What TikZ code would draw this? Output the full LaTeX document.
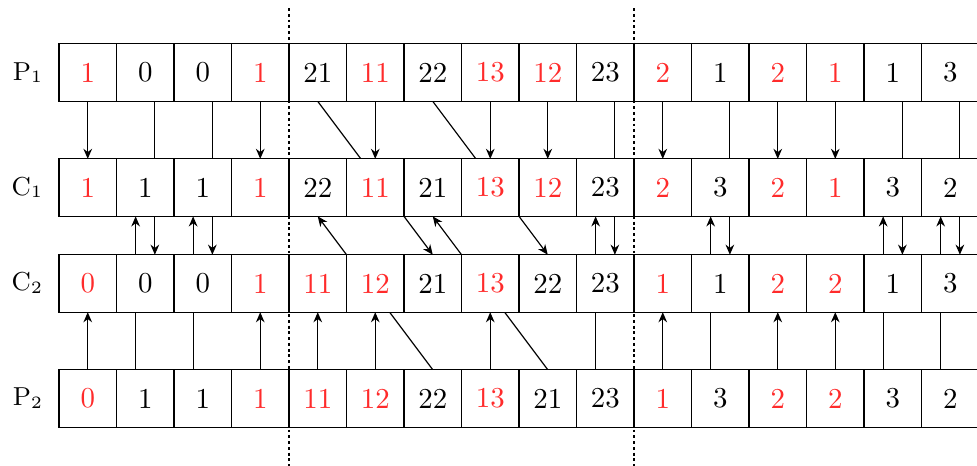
\documentclass[tikz,border=0pt]{standalone}
\usepackage{tikz}
\usetikzlibrary{arrows.meta,positioning,backgrounds}
\definecolor{Kept}{HTML}{FF2B2B}

\begin{document}
\begin{tikzpicture}[x=0.7cm,y=0.7cm,
    cell/.style={rectangle,draw,fill=white,minimum size=0.7cm,inner sep=0pt,outer sep=0pt},
    rowname/.style={font=\small},
    link/.style={-{Stealth[length=3.5pt,width=3pt]}},
    cut/.style={dash pattern=on 1pt off 1pt}
]
\useasboundingbox (-1.026,-0.673) rectangle (15.965,7.43);
% the four strings
\foreach \c/\v [count=\i from 0] in {Kept/1,black/0,black/0,Kept/1,black/21,Kept/11,black/22,Kept/13,Kept/12,black/23,Kept/2,black/1,Kept/2,Kept/1,black/1,black/3}
  \node[cell,text=\c] (p1-\i) at (\i+0.5,6.1667) {\v};
\foreach \c/\v [count=\i from 0] in {Kept/1,black/1,black/1,Kept/1,black/22,Kept/11,black/21,Kept/13,Kept/12,black/23,Kept/2,black/3,Kept/2,Kept/1,black/3,black/2}
  \node[cell,text=\c] (c1-\i) at (\i+0.5,4.1667) {\v};
\foreach \c/\v [count=\i from 0] in {Kept/0,black/0,black/0,Kept/1,Kept/11,Kept/12,black/21,Kept/13,black/22,black/23,Kept/1,black/1,Kept/2,Kept/2,black/1,black/3}
  \node[cell,text=\c] (c2-\i) at (\i+0.5,2.5) {\v};
\foreach \c/\v [count=\i from 0] in {Kept/0,black/1,black/1,Kept/1,Kept/11,Kept/12,black/22,Kept/13,black/21,black/23,Kept/1,black/3,Kept/2,Kept/2,black/3,black/2}
  \node[cell,text=\c] (p2-\i) at (\i+0.5,0.5) {\v};

\node[rowname,left=0.7mm of p1-0] (lp1) {$\mathrm{P}_1$};
\node[rowname,left=0.7mm of c1-0] (lc1) {$\mathrm{C}_1$};
\node[rowname,left=0.7mm of c2-0] (lc2) {$\mathrm{C}_2$};
\node[rowname,left=0.7mm of p2-0] (lp2) {$\mathrm{P}_2$};

\begin{pgfonlayer}{background}
  % kept in place
  \foreach \i in {0,3,5,7,8,10,12,13}
    \draw[link] (p1-\i) -- (c1-\i);
  \foreach \i in {0,3,4,5,7,10,12,13}
    \draw[link] (p2-\i) -- (c2-\i);
  % taken from the other parent, same slot
  \foreach \i in {1,2,9,11,14,15} {
    \draw[link] ([xshift=1.17mm]p1-\i.south) -- ([xshift=1.17mm]c2-\i.north);
    \draw[link] ([xshift=-1.17mm]p2-\i.north) -- ([xshift=-1.17mm]c1-\i.south);
  }
  % taken from the other parent, moved
  \draw[link] (p1-4.south) -- (c2-6.north);
  \draw[link] (p1-6.south) -- (c2-8.north);
  \draw[link] (p2-6.north) -- (c1-4.south);
  \draw[link] (p2-8.north) -- (c1-6.south);
\end{pgfonlayer}

\draw[cut] (4,7.29) -- (4,-0.7);
\draw[cut] (10,7.29) -- (10,-0.7);
\end{tikzpicture}
\end{document}
